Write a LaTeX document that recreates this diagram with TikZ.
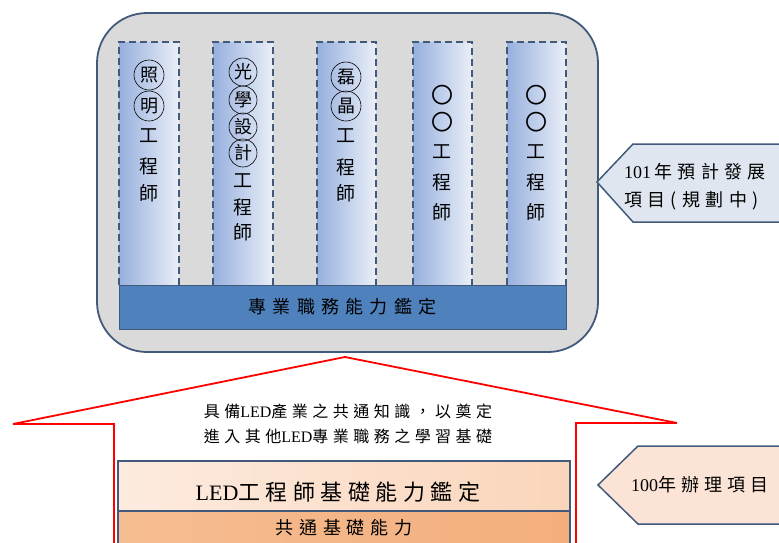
\documentclass[tikz,border=0pt]{standalone}
\usepackage{fontspec}
\setmainfont{Noto Sans CJK TC}
\newfontfamily\latfont{Liberation Serif}
\usepackage{xcolor}
\usetikzlibrary{positioning,calc}

\definecolor{boxgray}{HTML}{DADADA}
\definecolor{edgeblue}{HTML}{41597A}
\definecolor{colblue}{HTML}{97B0DE}
\definecolor{colpale}{HTML}{EAEFF8}
\definecolor{barblue}{HTML}{4F81BD}
\definecolor{tagblue}{HTML}{E0E6EF}
\definecolor{peachlight}{HTML}{FDEBE0}
\definecolor{peachmid}{HTML}{FAD5BA}
\definecolor{peachdark}{HTML}{F6BD92}
\definecolor{peachdeep}{HTML}{F3AE7C}
\definecolor{tagpeach}{HTML}{FBE4D5}

\newcommand{\cjkfont}[2]{\fontsize{#1}{#1}\selectfont\addfontfeature{LetterSpace=#2}}

\begin{document}
\begin{tikzpicture}[x=1pt,y=-1pt,
    colbox/.style={draw=edgeblue,dashed,dash pattern=on 7pt off 4pt,line width=1.5pt,
      left color=colblue,right color=colpale},
    ringchar/.style={circle,draw=black,line width=0.6pt,inner sep=0pt,minimum size=#1,
      font=\fontsize{18}{18}\selectfont},
    plainchar/.style={inner sep=0pt,font=\fontsize{19}{19}\selectfont},
    tagline/.style={draw=edgeblue,line width=1.5pt}]
  \useasboundingbox (0,0) rectangle (779,542);

  % upper frame: professional items
  \draw[draw=edgeblue,line width=1.8pt,fill=boxgray,rounded corners=50pt]
    (97,13) rectangle (598,352);

  % five dashed columns
  \foreach \xl/\xr/\n in {119/179/1,213/273/2,317/376/3,413/472/4,507/566/5}
    \draw[colbox] (\xl,285) -- (\xl,42) -- (\xr,42) -- (\xr,285);

  % blue bar
  \node[draw=edgeblue,line width=1pt,fill=barblue,minimum width=447pt,minimum height=44pt,
    inner sep=0pt,font=\cjkfont{18}{35}] (pro) at (342.5,307) {專業職務能力鑑定};

  % column 1
  \foreach \ch/\y [count=\i] in {照/75,明/106}
    \node[ringchar=30pt] (zm\i) at (149,\y) {\ch};
  \foreach \ch/\y [count=\i] in {工/136,程/166,師/193}
    \node[plainchar] (zmt\i) at (149,\y) {\ch};
  % column 2
  \foreach \ch/\y [count=\i] in {光/72,學/100,設/127,計/153}
    \node[ringchar=28pt] (gx\i) at (243,\y) {\ch};
  \foreach \ch/\y [count=\i] in {工/181,程/207,師/232}
    \node[plainchar] (gxt\i) at (243,\y) {\ch};
  % column 3
  \foreach \ch/\y [count=\i] in {磊/77,晶/106}
    \node[ringchar=30pt] (lj\i) at (346,\y) {\ch};
  \foreach \ch/\y [count=\i] in {工/136,程/167,師/193}
    \node[plainchar] (ljt\i) at (346,\y) {\ch};
  % columns 4 and 5
  \foreach \x/\n in {442/4,536/5}{
    \foreach \ch/\y [count=\i] in {〇/95,〇/122}
      \node[inner sep=0pt,font=\fontsize{22}{22}\selectfont] (oo\n-\i) at (\x,\y) {\ch};
    \foreach \ch/\y [count=\i] in {工/152,程/182,師/212}
      \node[plainchar] (oot\n-\i) at (\x,\y) {\ch};
  }

  % tag 101
  \filldraw[tagline,fill=tagblue] (633,144) -- (800,144) -- (800,222) -- (633,222) -- (597,182) -- cycle;
  \node[anchor=west,align=left,inner sep=0pt,font=\cjkfont{18}{30},
    text depth=0pt] (plan) at (624,185)
    {{\latfont 101\,}年預計發展\\[10pt]項目(規劃中)};

  % red house arrow
  \draw[red,line width=1.8pt,fill=white] (114,560) -- (114,424) -- (13,424) -- (345,357)
    -- (677,423) -- (576,423) -- (576,560);
  \node[align=center,inner sep=0pt,font=\cjkfont{16}{28}] (aim) at (348,424)
    {具備{\latfont LED}產業之共通知識，以奠定\\[9pt]進入其他{\latfont LED}專業職務之學習基礎};

  % orange base box
  \draw[draw=edgeblue,line width=1.2pt,left color=peachlight,right color=peachmid]
    (118,461) rectangle (570,511);
  \draw[draw=edgeblue,line width=1.2pt,left color=peachdark,right color=peachdeep]
    (118,511) rectangle (570,560);
  \node[font=\cjkfont{22}{25},inner sep=0pt] (base) at (338,492)
    {{\latfont LED}工程師基礎能力鑑定};
  \node[font=\cjkfont{18}{32},inner sep=0pt] (common) at (344,528) {共通基礎能力};

  % tag 100
  \filldraw[tagline,fill=tagpeach] (638,446) -- (800,446) -- (800,524) -- (638,524) -- (598,485) -- cycle;
  \node[anchor=west,inner sep=0pt,font=\cjkfont{18}{28}] (done) at (631,485)
    {{\latfont 100}年辦理項目};
\end{tikzpicture}
\end{document}
